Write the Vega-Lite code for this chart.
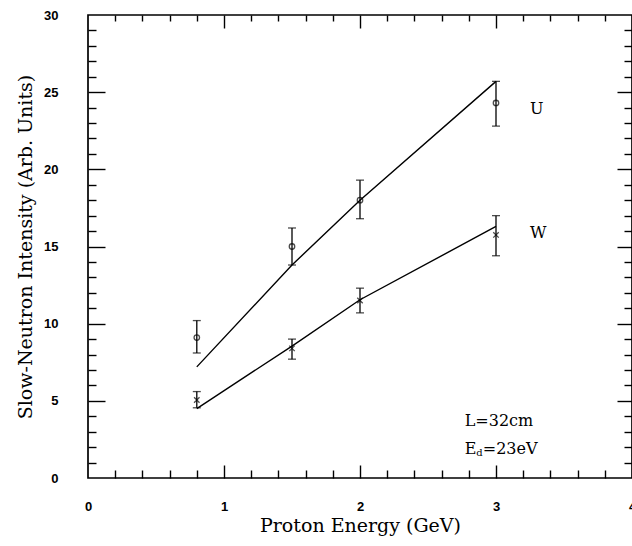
{
  "$schema": "https://vega.github.io/schema/vega-lite/v6.json",
  "autosize": "none",
  "width": 544,
  "height": 463,
  "padding": {"left": 88, "top": 15, "right": 0, "bottom": 68},
  "background": "white",
  "config": {
    "view": {"stroke": "black", "strokeWidth": 1.7},
    "axis": {
      "domain": false,
      "grid": false,
      "labelFlush": false,
      "tickColor": "black",
      "tickWidth": 1.4,
      "labelFont": "Liberation Sans",
      "labelFontSize": 13,
      "labelFontWeight": "bold",
      "labelColor": "black",
      "titleFont": "DejaVu Serif",
      "titleFontSize": 19,
      "titleFontWeight": "normal",
      "titleColor": "black"
    }
  },
  "datasets": {
    "pts": [
      {"series": "U", "E": 0.8, "I": 9.1, "lo": 8.1, "hi": 10.2},
      {"series": "U", "E": 1.5, "I": 15.0, "lo": 13.8, "hi": 16.2},
      {"series": "U", "E": 2.0, "I": 18.0, "lo": 16.8, "hi": 19.3},
      {"series": "U", "E": 3.0, "I": 24.3, "lo": 22.8, "hi": 25.7},
      {"series": "W", "E": 0.8, "I": 5.05, "lo": 4.55, "hi": 5.6},
      {"series": "W", "E": 1.5, "I": 8.4, "lo": 7.7, "hi": 9.0},
      {"series": "W", "E": 2.0, "I": 11.5, "lo": 10.7, "hi": 12.3},
      {"series": "W", "E": 3.0, "I": 15.75, "lo": 14.4, "hi": 17.0}
    ],
    "fit": [
      {"series": "U", "E": 0.8, "I": 7.2},
      {"series": "U", "E": 1.5, "I": 13.8},
      {"series": "U", "E": 2.0, "I": 18.0},
      {"series": "U", "E": 3.0, "I": 25.7},
      {"series": "W", "E": 0.8, "I": 4.5},
      {"series": "W", "E": 1.5, "I": 8.55},
      {"series": "W", "E": 2.0, "I": 11.55},
      {"series": "W", "E": 3.0, "I": 16.3}
    ],
    "labels": [
      {"E": 3.25, "I": 23.9, "t": "U"},
      {"E": 3.25, "I": 15.9, "t": "W"}
    ],
    "ann": [
      {"E": 2.77, "I": 3.7, "t": "L=32cm", "part": "main"},
      {"E": 2.77, "I": 1.9, "t": "E", "part": "main"},
      {"E": 2.77, "I": 1.9, "t": "d", "part": "sub"},
      {"E": 2.77, "I": 1.9, "t": "=23eV", "part": "rest"}
    ]
  },
  "resolve": {"axis": {"x": "independent", "y": "independent"}},
  "layer": [
    {
      "data": {"name": "pts"},
      "mark": {"type": "rule", "color": "black", "strokeWidth": 1.3},
      "encoding": {
        "x": {"field": "E", "type": "quantitative", "scale": {"domain": [0, 4], "nice": false, "zero": false},
          "axis": {"orient": "bottom", "values": [0, 1, 2, 3, 4], "ticks": false, "labelPadding": 22, "title": "Proton Energy (GeV)", "titlePadding": 3}},
        "y": {"field": "lo", "type": "quantitative", "scale": {"domain": [0, 30], "nice": false, "zero": false},
          "axis": {"orient": "left", "values": [0, 5, 10, 15, 20, 25, 30], "ticks": false, "labelPadding": 30, "title": "Slow-Neutron Intensity (Arb. Units)", "titlePadding": 8}},
        "y2": {"field": "hi"}
      }
    },
    {
      "data": {"name": "pts"},
      "mark": {"type": "tick", "orient": "horizontal", "size": 8, "thickness": 1.3, "color": "black"},
      "encoding": {
        "x": {"field": "E", "type": "quantitative", "scale": {"domain": [0, 4], "nice": false, "zero": false},
          "axis": {"orient": "bottom", "values": [1, 2, 3], "labels": false, "tickSize": -13, "title": null}},
        "y": {"field": "lo", "type": "quantitative", "scale": {"domain": [0, 30], "nice": false, "zero": false},
          "axis": {"orient": "left", "values": [5, 10, 15, 20, 25], "labels": false, "tickSize": -17, "title": null}}
      }
    },
    {
      "data": {"name": "pts"},
      "mark": {"type": "tick", "orient": "horizontal", "size": 8, "thickness": 1.3, "color": "black"},
      "encoding": {
        "x": {"field": "E", "type": "quantitative", "scale": {"domain": [0, 4], "nice": false, "zero": false},
          "axis": {"orient": "bottom", "values": [0.2, 0.4, 0.6, 0.8, 1.2, 1.4, 1.6, 1.8, 2.2, 2.4, 2.6, 2.8, 3.2, 3.4, 3.6, 3.8], "labels": false, "tickSize": -8, "title": null}},
        "y": {"field": "hi", "type": "quantitative", "scale": {"domain": [0, 30], "nice": false, "zero": false},
          "axis": {"orient": "left", "values": [1, 2, 3, 4, 6, 7, 8, 9, 11, 12, 13, 14, 16, 17, 18, 19, 21, 22, 23, 24, 26, 27, 28, 29], "labels": false, "tickSize": -8, "title": null}}
      }
    },
    {
      "data": {"name": "pts"},
      "mark": {"type": "point", "filled": false, "color": "black", "strokeWidth": 1.3, "size": 30},
      "encoding": {
        "x": {"field": "E", "type": "quantitative", "scale": {"domain": [0, 4], "nice": false, "zero": false},
          "axis": {"orient": "top", "values": [1, 2, 3], "labels": false, "tickSize": -13, "title": null}},
        "y": {"field": "I", "type": "quantitative", "scale": {"domain": [0, 30], "nice": false, "zero": false},
          "axis": {"orient": "right", "values": [5, 10, 15, 20, 25], "labels": false, "tickSize": -15, "title": null}},
        "shape": {"field": "series", "type": "nominal", "scale": {"domain": ["U", "W"], "range": ["circle", "M-1,-1L1,1M-1,1L1,-1"]}, "legend": null}
      }
    },
    {
      "data": {"name": "fit"},
      "mark": {"type": "line", "color": "black", "strokeWidth": 1.4},
      "encoding": {
        "x": {"field": "E", "type": "quantitative", "scale": {"domain": [0, 4], "nice": false, "zero": false},
          "axis": {"orient": "top", "values": [0.2, 0.4, 0.6, 0.8, 1.2, 1.4, 1.6, 1.8, 2.2, 2.4, 2.6, 2.8, 3.2, 3.4, 3.6, 3.8], "labels": false, "tickSize": -6, "title": null}},
        "y": {"field": "I", "type": "quantitative", "scale": {"domain": [0, 30], "nice": false, "zero": false},
          "axis": {"orient": "right", "values": [1, 2, 3, 4, 6, 7, 8, 9, 11, 12, 13, 14, 16, 17, 18, 19, 21, 22, 23, 24, 26, 27, 28, 29], "labels": false, "tickSize": -8, "title": null}},
        "detail": {"field": "series", "type": "nominal"}
      }
    },
    {
      "data": {"name": "labels"},
      "mark": {"type": "text", "align": "left", "baseline": "middle", "font": "DejaVu Serif", "fontSize": 16, "color": "black"},
      "encoding": {
        "x": {"field": "E", "type": "quantitative", "axis": null},
        "y": {"field": "I", "type": "quantitative", "axis": null},
        "text": {"field": "t"}
      }
    },
    {
      "data": {"name": "ann"},
      "transform": [{"filter": "datum.part == 'main'"}],
      "mark": {"type": "text", "align": "left", "baseline": "middle", "font": "DejaVu Serif", "fontSize": 16, "color": "black"},
      "encoding": {
        "x": {"field": "E", "type": "quantitative", "axis": null},
        "y": {"field": "I", "type": "quantitative", "axis": null},
        "text": {"field": "t"}
      }
    },
    {
      "data": {"name": "ann"},
      "transform": [{"filter": "datum.part == 'sub'"}],
      "mark": {"type": "text", "align": "left", "baseline": "middle", "font": "DejaVu Serif", "fontSize": 10, "color": "black", "dx": 11.5, "dy": 4},
      "encoding": {
        "x": {"field": "E", "type": "quantitative", "axis": null},
        "y": {"field": "I", "type": "quantitative", "axis": null},
        "text": {"field": "t"}
      }
    },
    {
      "data": {"name": "ann"},
      "transform": [{"filter": "datum.part == 'rest'"}],
      "mark": {"type": "text", "align": "left", "baseline": "middle", "font": "DejaVu Serif", "fontSize": 16, "color": "black", "dx": 18},
      "encoding": {
        "x": {"field": "E", "type": "quantitative", "axis": null},
        "y": {"field": "I", "type": "quantitative", "axis": null},
        "text": {"field": "t"}
      }
    }
  ]
}
